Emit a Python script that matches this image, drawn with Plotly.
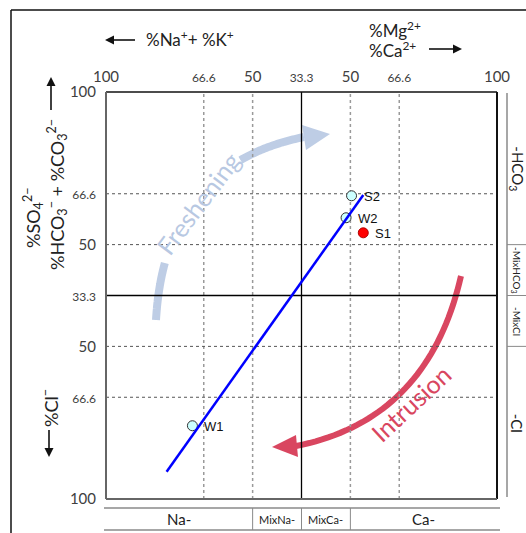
import plotly.graph_objects as go
import numpy as np

# ---------------- data ----------------
samples = ["S2", "W2", "S1", "W1"]
cation_pos = [62.8, 61.4, 65.8, 22.1]   # x position (0 = 100% Na+K, 100 = 100% Ca+Mg)
anion_pos = [74.5, 69.1, 65.4, 18.0]    # y position (0 = 100% Cl, 100 = 100% HCO3)
marker_fill = ["#ccffff", "#ccffff", "#ff0000", "#ccffff"]
marker_edge = ["#333333", "#333333", "#b00000", "#333333"]

mix_x = [15.5, 65.8]
mix_y = [6.7, 74.7]

tick_pos = [0, 25, 37.5, 50, 62.5, 75, 100]
x_tick_text = ["100", "66.6", "50", "33.3", "50", "66.6", "100"]
y_tick_text = ["100", "66.6", "50", "33.3", "50", "66.6", "100"]

cation_facies = ["Na-", "MixNa-", "MixCa-", "Ca-"]
cation_bounds = [0, 37.5, 50, 62.5, 100]
anion_facies = ["-HCO<sub>3</sub>", "-MixHCO<sub>3</sub>", "-MixCl", "-Cl"]
anion_bounds = [100, 62.5, 50, 37.5, 0]

# ---------------- layout geometry ----------------
W, H = 526, 533
L, T, PW, PH = 106, 92, 391, 407


def PX(x):
    return (x - L) / PW


def PY(y):
    return (T + PH - y) / PH


def fmt(s):
    return f'<span style="font-size:12px">{s}</span>' if "." in s else s


fig = go.Figure()

fig.add_trace(go.Scatter(
    x=cation_pos, y=anion_pos, mode="markers",
    marker=dict(size=10, color=marker_fill, line=dict(color=marker_edge, width=1)),
    showlegend=False, cliponaxis=False, hoverinfo="skip"))

fig.add_trace(go.Scatter(
    x=mix_x, y=mix_y, mode="lines", line=dict(color="#0000ff", width=2.5),
    showlegend=False, hoverinfo="skip"))

shapes = []
# grid
for v in [25, 37.5, 62.5, 75]:
    shapes.append(dict(type="line", xref="x", yref="y", x0=v, x1=v, y0=0, y1=100,
                       line=dict(color="#9a9a9a", width=1.5, dash="3px,3px"), layer="below"))
    shapes.append(dict(type="line", xref="x", yref="y", x0=0, x1=100, y0=v, y1=v,
                       line=dict(color="#555555", width=1, dash="3px,3px"), layer="below"))
shapes.append(dict(type="line", xref="x", yref="y", x0=50, x1=50, y0=0, y1=100,
                   line=dict(color="#000", width=1.3), layer="below"))
shapes.append(dict(type="line", xref="x", yref="y", x0=0, x1=100, y0=50, y1=50,
                   line=dict(color="#000", width=1.3), layer="below"))
# frame of plot
shapes += [
    dict(type="line", xref="paper", yref="paper", x0=0, x1=1, y0=1, y1=1, line=dict(color="#111", width=1.5)),
    dict(type="line", xref="paper", yref="paper", x0=1, x1=1, y0=0, y1=1, line=dict(color="#111", width=2)),
    dict(type="line", xref="paper", yref="paper", x0=0, x1=0, y0=0, y1=1, line=dict(color="#666", width=2)),
    dict(type="line", xref="paper", yref="paper", x0=0, x1=1, y0=0, y1=0, line=dict(color="#666", width=2)),
]
# outer frame
shapes += [
    dict(type="line", xref="paper", yref="paper", x0=PX(11), x1=PX(540), y0=PY(10), y1=PY(10), line=dict(color="#111", width=1.5)),
    dict(type="line", xref="paper", yref="paper", x0=PX(11), x1=PX(11), y0=PY(10), y1=PY(545), line=dict(color="#111", width=1.5)),
]
# bottom table
tab_top, tab_bot = 508, 530
for yy in (tab_top, tab_bot):
    shapes.append(dict(type="line", xref="paper", yref="paper", x0=PX(104), x1=PX(500),
                       y0=PY(yy), y1=PY(yy), line=dict(color="#8a8a8a", width=1.5)))
for b in cation_bounds[1:-1]:
    shapes.append(dict(type="line", xref="paper", yref="paper", x0=b / 100, x1=b / 100,
                       y0=PY(tab_top), y1=PY(tab_bot), line=dict(color="#8a8a8a", width=1)))
# right table
shapes.append(dict(type="line", xref="paper", yref="paper", x0=PX(507), x1=PX(507),
                   y0=PY(93), y1=PY(497), line=dict(color="#8a8a8a", width=1.5)))
for b in anion_bounds[1:-1]:
    shapes.append(dict(type="line", xref="paper", yref="paper", x0=PX(507), x1=PX(530),
                       y0=b / 100, y1=b / 100, line=dict(color="#8a8a8a", width=1)))


def bez(P0, C, P2, t0, t1, n=40):
    t = np.linspace(t0, t1, n)
    xs = (1 - t) ** 2 * P0[0] + 2 * t * (1 - t) * C[0] + t ** 2 * P2[0]
    ys = (1 - t) ** 2 * P0[1] + 2 * t * (1 - t) * C[1] + t ** 2 * P2[1]
    return "M " + " L ".join(f"{PX(a):.4f},{PY(b):.4f}" for a, b in zip(xs, ys))


def tri(a, b, c):
    return f"M {PX(a[0]):.4f},{PY(a[1]):.4f} L {PX(b[0]):.4f},{PY(b[1]):.4f} L {PX(c[0]):.4f},{PY(c[1]):.4f} Z"


def arrow(tail, tip, color="#111", hl=9, hw=4.5, lw=1.6):
    dx, dy = tip[0] - tail[0], tip[1] - tail[1]
    n = (dx * dx + dy * dy) ** 0.5
    ux, uy = dx / n, dy / n
    bx, by = tip[0] - ux * hl, tip[1] - uy * hl
    return [
        dict(type="line", xref="paper", yref="paper", x0=PX(tail[0]), y0=PY(tail[1]),
             x1=PX(bx + ux * 1), y1=PY(by + uy * 1), line=dict(color=color, width=lw)),
        dict(type="path", xref="paper", yref="paper",
             path=tri(tip, (bx - uy * hw, by + ux * hw), (bx + uy * hw, by - ux * hw)),
             fillcolor=color, line=dict(width=0)),
    ]


shapes += arrow((135, 40), (105, 40))
shapes += arrow((429, 49), (462, 49))
shapes += arrow((51, 110), (51, 77))
shapes += arrow((49, 430), (49, 457))

fresh_col = "rgb(190,205,229)"
intr_col = "rgb(217,70,96)"
F0, FC, F2 = (156, 320), (165, 165), (304, 137)
shapes.append(dict(type="path", xref="paper", yref="paper", path=bez(F0, FC, F2, 0, 0.2),
                   line=dict(color=fresh_col, width=8), layer="below"))
shapes.append(dict(type="path", xref="paper", yref="paper", path=bez(F0, FC, F2, 0.74, 1.0),
                   line=dict(color=fresh_col, width=8), layer="below"))
shapes.append(dict(type="path", xref="paper", yref="paper", path=tri((302, 125), (330, 134), (306, 150)),
                   fillcolor=fresh_col, line=dict(width=0), layer="below"))
I0, IC, I2 = (461, 276), (428, 420), (296, 446)
shapes.append(dict(type="path", xref="paper", yref="paper", path=bez(I0, IC, I2, 0, 1.0),
                   line=dict(color=intr_col, width=6), layer="below"))
shapes.append(dict(type="path", xref="paper", yref="paper", path=tri((296, 435), (272, 447), (298, 457)),
                   fillcolor=intr_col, line=dict(width=0), layer="below"))

ann = []
base_font = "Lato, Open Sans, sans-serif"
# sample labels
for s, xv, yv in zip(samples, cation_pos, anion_pos):
    ann.append(dict(text=s, x=xv, y=yv, xref="x", yref="y", xanchor="left", yanchor="middle",
                    xshift=10, yshift=-1,
                    font=dict(family="Liberation Sans, Arial", size=13, color="#111")))
ann.append(dict(text="%Na<sup>+</sup>+ %K<sup>+</sup>", x=PX(144), y=PY(39), xanchor="left", yanchor="middle",
                font=dict(family=base_font, size=17, color="#222")))
ann.append(dict(text="%Mg<sup>2+</sup>", x=PX(367), y=PY(30), xanchor="left", yanchor="middle",
                font=dict(family=base_font, size=17, color="#222")))
ann.append(dict(text="%Ca<sup>2+</sup>", x=PX(367), y=PY(49), xanchor="left", yanchor="middle",
                font=dict(family=base_font, size=17, color="#222")))
ann.append(dict(text="%SO<sub>4</sub><sup>2−</sup>", x=PX(33), y=PY(218), textangle=-90,
                xanchor="center", yanchor="middle", font=dict(family=base_font, size=18, color="#222")))
ann.append(dict(text="%HCO<sub>3</sub><sup>−</sup> + %CO<sub>3</sub><sup>2−</sup>", x=PX(57), y=PY(195), textangle=-90,
                xanchor="center", yanchor="middle", font=dict(family=base_font, size=18, color="#222")))
ann.append(dict(text="%Cl<sup>−</sup>", x=PX(50), y=PY(408), textangle=-90,
                xanchor="center", yanchor="middle", font=dict(family=base_font, size=18, color="#222")))
# arc texts
ann.append(dict(text="Freshening", x=PX(198), y=PY(203), textangle=-53, xanchor="center", yanchor="middle",
                font=dict(family=base_font, size=25, color="rgb(184,200,226)")))
ann.append(dict(text="Intrusion", x=PX(411), y=PY(403), textangle=-43, xanchor="center", yanchor="middle",
                font=dict(family=base_font, size=25, color=intr_col)))
# table labels
for i, lab in enumerate(cation_facies):
    c = (cation_bounds[i] + cation_bounds[i + 1]) / 200
    ann.append(dict(text=lab, x=c, y=PY(519), xanchor="center", yanchor="middle",
                    font=dict(family=base_font, size=11 if "Mix" in lab else 15, color="#222")))
for i, lab in enumerate(anion_facies):
    c = (anion_bounds[i] + anion_bounds[i + 1]) / 200
    ann.append(dict(text=lab, x=PX(517), y=c, xanchor="center", yanchor="middle", textangle=90,
                    font=dict(family=base_font, size=10 if "Mix" in lab else 15, color="#222")))
for a in ann:
    a.setdefault("showarrow", False)
    a.setdefault("xref", "paper")
    a.setdefault("yref", "paper")

fig.update_layout(
    width=W, height=H, autosize=False,
    margin=dict(l=L, r=W - L - PW, t=T, b=H - T - PH, pad=0),
    paper_bgcolor="white", plot_bgcolor="rgba(0,0,0,0)",
    shapes=shapes, annotations=ann, showlegend=False,
    xaxis=dict(range=[0, 100], side="top", tickvals=tick_pos, ticktext=[fmt(s) for s in x_tick_text],
               showgrid=False, zeroline=False, showline=False, ticks="", ticklabelstandoff=6,
               tickfont=dict(family=base_font, size=15, color="#404040")),
    yaxis=dict(range=[0, 100], tickvals=tick_pos, ticktext=[fmt(s) for s in y_tick_text],
               showgrid=False, zeroline=False, showline=False, ticks="", ticklabelstandoff=9,
               tickfont=dict(family=base_font, size=15, color="#404040")),
)

fig.write_html("out.html")
